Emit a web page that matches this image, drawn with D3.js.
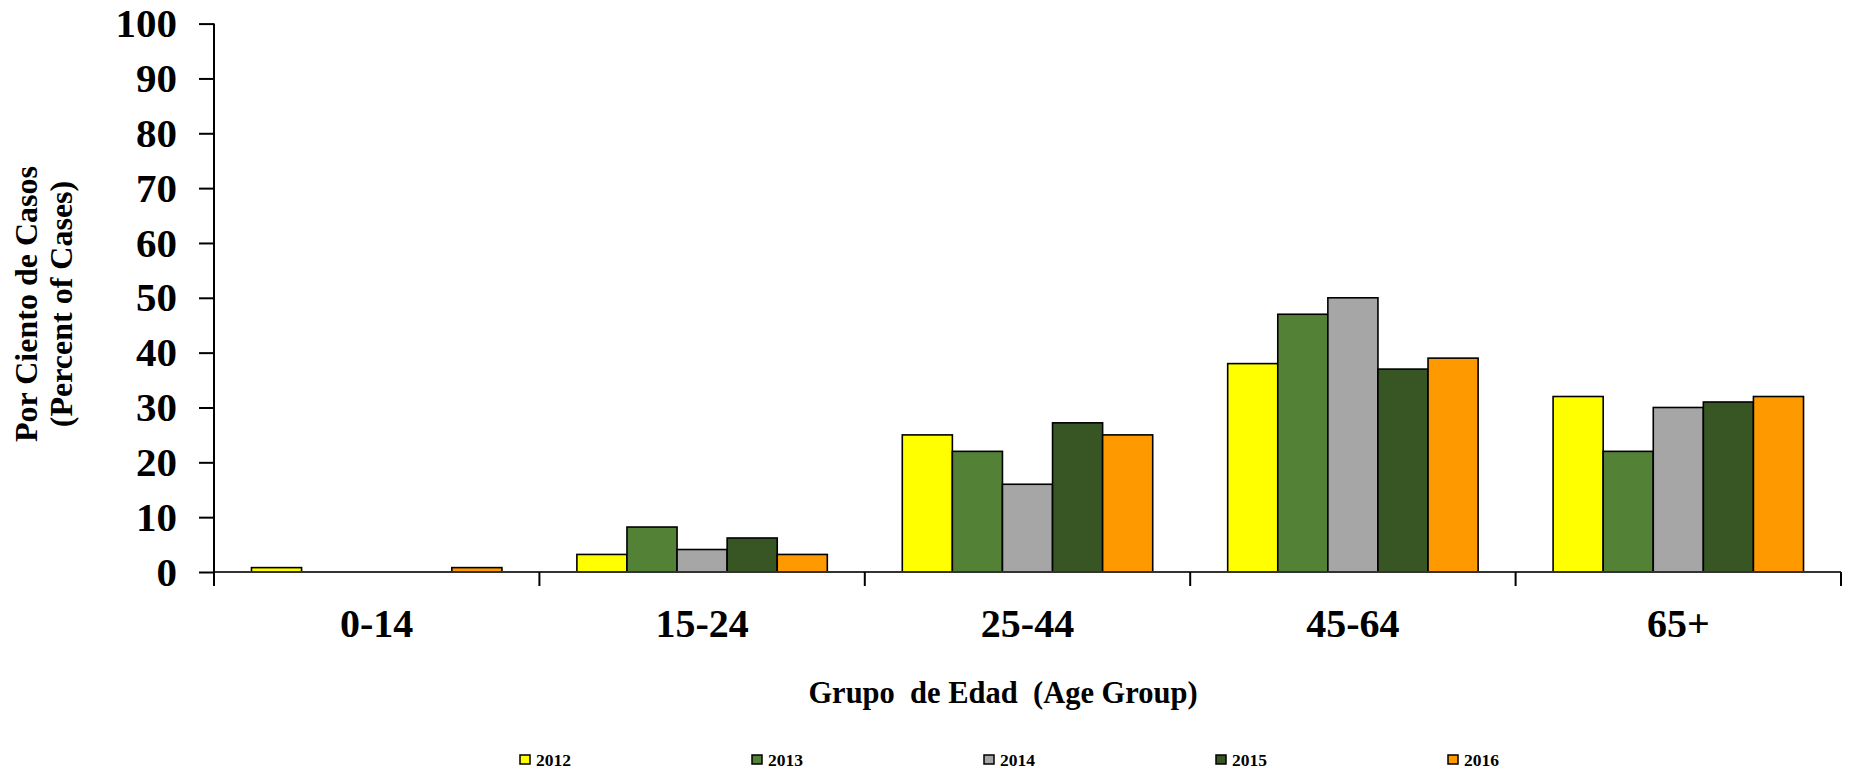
<!DOCTYPE html>
<html>
<head>
<meta charset="utf-8">
<script src="https://cdn.jsdelivr.net/npm/d3@7"></script>
<style>
html, body { margin: 0; padding: 0; background: #ffffff; }
svg { display: block; }
text { font-family: "Liberation Serif", "Times New Roman", serif; font-weight: bold; fill: #000; }
</style>
</head>
<body>
<svg id="chart" width="1849" height="771"></svg>
<script>
// ---- Data ----
const categories = ["0-14", "15-24", "25-44", "45-64", "65+"];
const years = ["2012", "2013", "2014", "2015", "2016"];
const values2012 = [0.8, 3.2, 25, 38, 32];
const values2013 = [0, 8.2, 22, 47, 22];
const values2014 = [0, 4.1, 16, 50, 30];
const values2015 = [0, 6.2, 27.2, 37, 31];
const values2016 = [0.8, 3.2, 25, 39, 32];
const yTicks = [0, 10, 20, 30, 40, 50, 60, 70, 80, 90, 100];
const colors = ["#FFFF00", "#538135", "#A6A6A6", "#375623", "#FF9900"];
const yTitleLines = ["Por Ciento de Casos", "(Percent of Cases)"];
const xTitle = "Grupo  de Edad  (Age Group)";

const seriesValues = [values2012, values2013, values2014, values2015, values2016];

const svg = d3.select("#chart");
const mLeft = 214, mRight = 1841, mTop = 23.6, mBottom = 572;

const x0 = d3.scaleBand().domain(categories).range([mLeft, mRight]).padding(0);
const x1 = d3.scaleBand().domain(years)
  .range([x0.bandwidth() * 0.1152, x0.bandwidth() * 0.8848]).padding(0);
const y = d3.scaleLinear().domain([0, 100]).range([mBottom, mTop]);

// Bars
const groups = svg.append("g").selectAll("g")
  .data(categories).join("g")
  .attr("transform", d => `translate(${x0(d)},0)`);

groups.selectAll("rect")
  .data((c, ci) => years.map((yr, yi) => ({ yr, yi, v: seriesValues[yi][ci] })).filter(d => d.v > 0))
  .join("rect")
  .attr("x", d => x1(d.yr))
  .attr("width", x1.bandwidth())
  .attr("y", d => y(d.v))
  .attr("height", d => y(0) - y(d.v))
  .attr("fill", d => colors[d.yi])
  .attr("stroke", "#000")
  .attr("stroke-width", 1.6);

// X axis line + boundary ticks
const xAxisG = svg.append("g");
xAxisG.append("line")
  .attr("x1", mLeft).attr("x2", mRight)
  .attr("y1", y(0)).attr("y2", y(0))
  .attr("stroke", "#333").attr("stroke-width", 2);
const boundaries = categories.map(c => x0(c)).concat([x0(categories[categories.length - 1]) + x0.bandwidth()]);
xAxisG.selectAll("line.tk").data(boundaries).join("line")
  .attr("class", "tk")
  .attr("x1", d => d).attr("x2", d => d)
  .attr("y1", y(0)).attr("y2", y(0) + 14)
  .attr("stroke", "#000").attr("stroke-width", 2);
xAxisG.selectAll("text.cat").data(categories).join("text")
  .attr("class", "cat")
  .attr("x", d => x0(d) + x0.bandwidth() / 2)
  .attr("y", 637)
  .attr("text-anchor", "middle")
  .attr("font-size", 40)
  .text(d => d);

// Y axis
const yAxis = d3.axisLeft(y).tickValues(yTicks).tickSize(15).tickPadding(22).tickFormat(d3.format("d"));
const yG = svg.append("g").attr("transform", `translate(${mLeft},0)`).call(yAxis);
yG.select(".domain").attr("stroke", "#000").attr("stroke-width", 2)
  .attr("d", `M0,${mTop}V${mBottom + 14}`);
yG.selectAll(".tick line").attr("stroke", "#000").attr("stroke-width", 2);
yG.selectAll(".tick text")
  .attr("font-size", 41)
  .attr("font-family", "Liberation Serif, Times New Roman, serif")
  .attr("font-weight", "bold")
  .attr("fill", "#000");

// Y title
const yt = svg.append("text")
  .attr("transform", `translate(37,304) rotate(-90)`)
  .attr("text-anchor", "middle")
  .attr("font-size", 32);
yt.append("tspan").attr("x", 0).attr("dy", 0).text(yTitleLines[0]);
yt.append("tspan").attr("x", 0).attr("dy", 35).text(yTitleLines[1]);

// X title
svg.append("text")
  .attr("x", 1003).attr("y", 703)
  .attr("text-anchor", "middle")
  .attr("font-size", 30.5)
  .style("white-space", "pre")
  .text(xTitle);

// Legend
const legendX = d3.scalePoint().domain(years).range([520, 1448]);
const lg = svg.append("g").selectAll("g").data(years).join("g")
  .attr("transform", d => `translate(${legendX(d)},755)`);
lg.append("rect")
  .attr("width", 10).attr("height", 9)
  .attr("fill", (d, i) => colors[i])
  .attr("stroke", "#000").attr("stroke-width", 1.5);
lg.append("text")
  .attr("x", 16).attr("y", 11)
  .attr("font-size", 17.5)
  .text(d => d);
</script>
</body>
</html>
